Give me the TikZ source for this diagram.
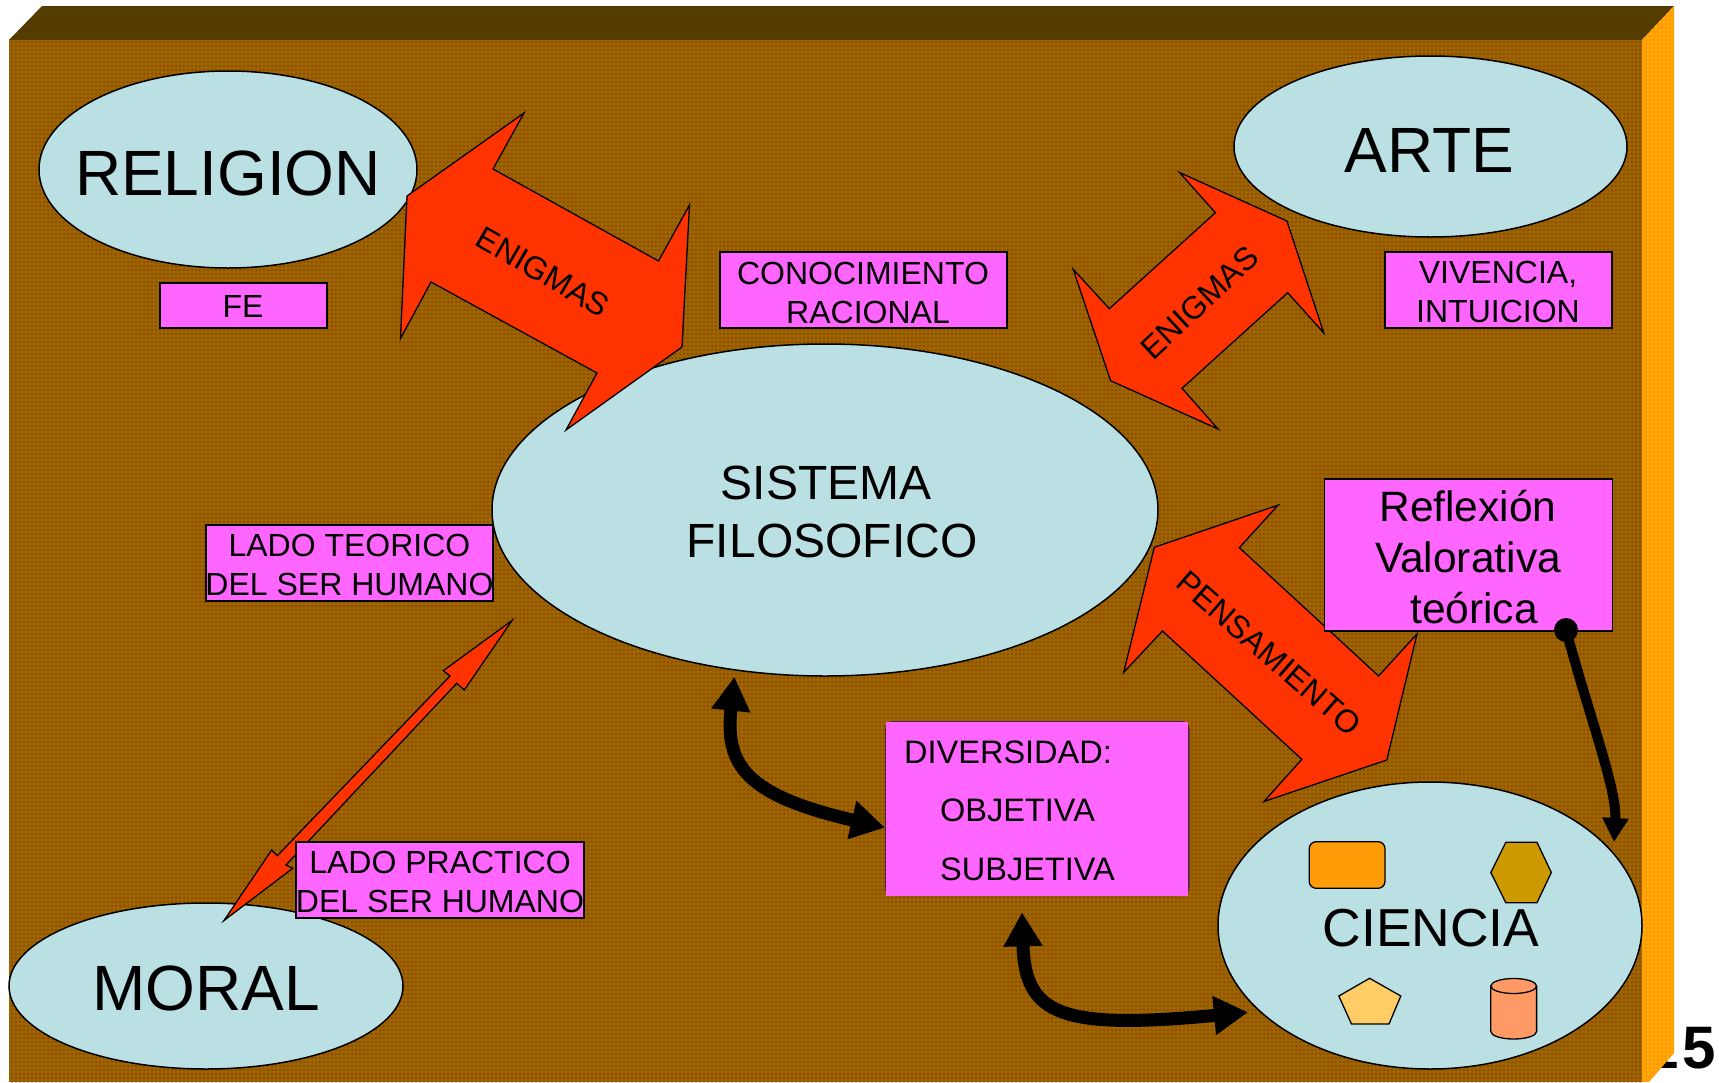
\documentclass[tikz,border=0pt]{standalone}
\usepackage{fontspec}
\setmainfont{Liberation Sans}
\usepackage{tikz}
\usetikzlibrary{arrows.meta}
\usetikzlibrary{patterns}
\usetikzlibrary{shapes.geometric}
\definecolor{boardfront}{HTML}{996600}
\definecolor{boardtop}{HTML}{573A00}
\definecolor{boardside}{HTML}{FF9C08}
\definecolor{bubble}{HTML}{BBE0E3}
\definecolor{notebox}{HTML}{FF66FF}
\definecolor{bigred}{HTML}{FF3300}
\definecolor{hexfill}{HTML}{CC9900}
\definecolor{pentfill}{HTML}{FFCC66}
\definecolor{cylfill}{HTML}{FF9966}
\pgfdeclarepatternformonly{boarddots}{\pgfqpoint{-1pt}{-1pt}}{\pgfqpoint{1pt}{1pt}}{\pgfqpoint{4pt}{4pt}}{\pgfpathrectangle{\pgfqpoint{-1pt}{-1pt}}{\pgfqpoint{2pt}{2pt}}\pgfusepath{fill}}
\tikzset{bubblenode/.style={ellipse,draw,line width=1.5pt,fill=bubble,inner sep=0pt}}
\tikzset{notenode/.style={rectangle,draw,line width=1.5pt,fill=notebox,inner sep=0pt}}
\tikzset{txt/.style 2 args={inner sep=0pt,align=center,font=\fontsize{#1}{#2}\selectfont}}
\tikzset{redarrow/.style={draw,line width=1.3pt,fill=bigred,line join=miter,miter limit=10}}
\tikzset{blackarrow/.style={line width=13pt,{Triangle[length=34pt,width=37pt]}-{Triangle[length=34pt,width=37pt]}}}
\tikzset{smallshape/.style={draw,line width=1.3pt}}

\begin{document}
\begin{tikzpicture}[x=1pt,y=-1pt]
    \useasboundingbox (0,0) rectangle (1719,1082);

    % Page number behind the board
    \node[inner sep=0pt,anchor=base east,font=\fontsize{60}{60}\selectfont\bfseries] (pagenum) at (1716,1068) {1\kern4pt 5};

    % Board
    \fill[boardtop] (9,40) -- (42,6) -- (1674,6) -- (1642,40) -- cycle;
    \fill[pattern=boarddots,pattern color=green!50!black,opacity=0.1] (9,40) -- (42,6) -- (1674,6) -- (1642,40) -- cycle;
    \fill[boardside] (1642,40) -- (1674,6) -- (1674,1053) -- (1649,1082) -- (1642,1082) -- cycle;
    \fill[pattern=boarddots,pattern color=yellow!70!orange,opacity=0.4] (1642,40) -- (1674,6) -- (1674,1053) -- (1649,1082) -- (1642,1082) -- cycle;
    \fill[boardfront] (9,40) rectangle (1642,1082);
    \fill[pattern=boarddots,pattern color=red!60!black,opacity=0.3] (9,40) rectangle (1642,1082);

    % Ellipses
    \node[bubblenode,minimum width=378pt,minimum height=197pt] (religion) at (228,169.5) {};
    \node[bubblenode,minimum width=393pt,minimum height=181pt] (arte) at (1430.5,146.5) {};
    \node[bubblenode,minimum width=666pt,minimum height=332pt] (sistema) at (825,510) {};
    \node[bubblenode,minimum width=424pt,minimum height=287pt] (ciencia) at (1430,925.5) {};
    \node[bubblenode,minimum width=394pt,minimum height=166pt] (moral) at (206,986) {};

    % Big arrows
    \draw[redarrow] (407,196) -- (524,113) -- (493,169) -- (658.5,261) -- (689.5,205) -- (682,347) -- (566,430) -- (597,373) -- (431,282) -- (400.5,338.5) -- cycle;
    \draw[redarrow] (1179.5,172.5) -- (1215.4,212.7) -- (1109.3,308.7) -- (1073.2,269.3) -- (1110.6,380.7) -- (1218,429) -- (1182,388.3) -- (1287.7,292.7) -- (1323.8,333) -- (1286.9,221) -- cycle;
    \draw[redarrow] (1278,505.2) -- (1239.3,547.7) -- (1378.6,676) -- (1417,634) -- (1386.8,760) -- (1264,801.5) -- (1301.8,759.3) -- (1162.5,631) -- (1123.7,672.3) -- (1154.3,547.3) -- cycle;

    % Thin arrow
    \draw[redarrow] (512,620.5) -- (464.3,690) -- (456.7,683.3) -- (286,865) -- (292.7,868.3) -- (224,920.5) -- (271.7,850) -- (277.3,855.7) -- (450,676) -- (443.3,670.7) -- cycle;

    % Arrow labels
    \node[txt={32}{38},rotate=-30] (enigmasleft) at (543,272) {ENIGMAS};
    \node[txt={32}{38},rotate=43] (enigmasright) at (1199.5,302.7) {ENIGMAS};
    \node[txt={32}{38},rotate=-41] (pensamiento) at (1269,653) {PENSAMIENTO};

    % Boxes
    \node[notenode,minimum width=167pt,minimum height=45pt] (fe) at (243.5,305.5) {};
    \node[notenode,minimum width=287pt,minimum height=76pt] (conocimiento) at (863.5,290) {};
    \node[notenode,minimum width=227pt,minimum height=76pt] (vivencia) at (1498.5,290) {};
    \node[notenode,minimum width=287pt,minimum height=76pt] (teorico) at (349.5,563) {};
    \node[notenode,minimum width=288pt,minimum height=76pt] (practico) at (440,880) {};
    \node[notenode,minimum width=288pt,minimum height=152pt] (reflexion) at (1468.5,555) {};

    % Diversidad has no outline of its own
    \fill[black!70!notebox,rounded corners=8pt] (885,721) rectangle (1189.5,896);
    \fill[notebox] (886,722) rectangle (1188,896);

    % Box texts
    \node[txt={32}{39},anchor=base] (fetxt) at (243,317.5) {FE};
    \node[txt={32}{39}] (conocimientotxt) at (863,292.5) {CONOCIMIENTO\\\hspace*{10pt}RACIONAL};
    \node[txt={32}{39}] (vivenciatxt) at (1498,292) {VIVENCIA,\\INTUICION};
    \node[txt={32}{39}] (teoricotxt) at (349.5,565) {LADO TEORICO\\DEL SER HUMANO};
    \node[txt={32}{39}] (practicotxt) at (440,882) {LADO PRACTICO\\DEL SER HUMANO};
    \node[txt={42.5}{51}] (reflexiontxt) at (1468,557) {Reflexión\\Valorativa\\\hspace*{12pt}teórica};
    \node[inner sep=0pt,align=left,anchor=north west,font=\fontsize{32.5}{58.5}\selectfont] (diversidadtxt) at (904,740.5) {DIVERSIDAD:\\\hspace*{36pt}OBJETIVA\\\hspace*{36pt}SUBJETIVA};

    % Ellipse texts
    \node[txt={64}{72},anchor=base] (religiontxt) at (228,195) {RELIGION};
    \node[txt={64}{72},anchor=base] (artetxt) at (1429.5,172) {ARTE};
    \node[txt={64}{72},anchor=base] (moraltxt) at (206,1010) {MORAL};
    \node[txt={53.5}{60},anchor=base] (cienciatxt) at (1431,946) {CIENCIA};
    \node[txt={48}{58}] (sistematxt) at (832,512) {\hspace*{-12pt}SISTEMA\\FILOSOFICO};

    % Black arrows
    \coordinate (sistemalow) at (734.4,676.7);
    \coordinate (diversidadleft) at (885,827.7);
    \coordinate (diversidadlow) at (1022,912.3);
    \coordinate (ciencialeft) at (1248,1012.3);
    \coordinate (cienciatop) at (1614,842);
    \coordinate (dotstart) at (1566,630);
    \draw[blackarrow] (sistemalow) .. controls (725,765) and (745,795) .. (diversidadleft);
    \draw[blackarrow] (diversidadlow) .. controls (1025,1015) and (1060,1030) .. (ciencialeft);
    \fill (dotstart) circle (12pt);
    \draw[line width=10pt,-{Triangle[length=24pt,width=25pt]}] (dotstart) .. controls (1592,725) and (1617,790) .. (cienciatop);

    % Shapes inside ciencia
    \draw[smallshape,fill=boardside,rounded corners=7pt] (1309.2,841.7) rectangle (1385,888.3);
    \draw[smallshape,fill=hexfill] (1505.8,842.3) -- (1537,842.3) -- (1551.3,872.5) -- (1537,902.7) -- (1505.8,902.7) -- (1490.8,872.5) -- cycle;
    \draw[smallshape,fill=pentfill] (1369.6,978.3) -- (1400.8,996) -- (1389,1024) -- (1351.5,1024) -- (1338.8,996) -- cycle;
    \draw[smallshape,fill=cylfill] (1490.8,986) -- (1490.8,1031.5) arc (180:0:22.9 and 7.5) -- (1536.6,986) arc (0:-180:22.9 and 7.5) -- cycle;
    \draw[smallshape] (1490.8,986) arc (180:0:22.9 and 7.5);
\end{tikzpicture}
\end{document}
